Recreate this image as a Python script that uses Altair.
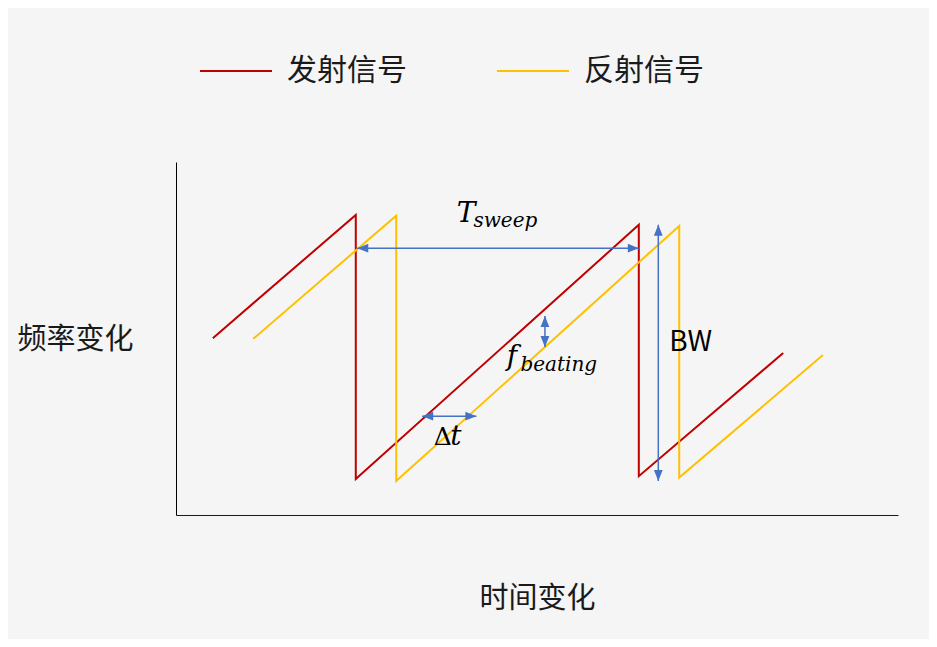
import altair as alt
import pandas as pd

# ---- data (time axis 0-100, frequency axis 0-100) ----
series_names = ["发射信号", "反射信号"]
series_colors = ["#c00000", "#ffc000"]

tx_time = [5.1, 24.9, 24.9, 64.1, 64.1, 84.1]
tx_freq = [50.1, 85.0, 10.2, 82.2, 11.0, 45.9]
rx_time = [10.7, 30.5, 30.5, 69.7, 69.7, 89.6]
rx_freq = [49.9, 84.8, 9.6, 81.9, 10.6, 45.3]

# annotation arrows: T_sweep, BW, f_beating, delta t
arrow_x1 = [25.1, 66.8, 51.1, 34.1]
arrow_y1 = [75.6, 82.2, 56.4, 28.0]
arrow_x2 = [64.1, 66.8, 51.1, 41.6]
arrow_y2 = [75.6, 9.6, 47.6, 28.0]

# annotation texts
label_text = ["T", "sweep", "f", "beating", "Δ", "t", "BW"]
label_x = [38.9, 41.2, 45.8, 47.7, 35.7, 38.0, 68.3]
label_y = [83.0, 81.6, 42.5, 40.8, 19.8, 19.8, 46.5]
label_kind = ["main", "sub", "main", "sub", "upright", "main", "sans"]

# ---- tables ----
rows = []
for name, ts, fs in [(series_names[0], tx_time, tx_freq), (series_names[1], rx_time, rx_freq)]:
    for i, (t, f) in enumerate(zip(ts, fs)):
        rows.append({"series": name, "t": t, "f": f, "i": i})
lines_df = pd.DataFrame(rows)

arrows_df = pd.DataFrame({"x1": arrow_x1, "y1": arrow_y1, "x2": arrow_x2, "y2": arrow_y2})

LEFT = "M0,0L2,-0.8L2,0.8Z"
RIGHT = "M0,0L-2,-0.8L-2,0.8Z"
UP = "M0,0L-0.8,2L0.8,2Z"
DOWN = "M0,0L-0.8,-2L0.8,-2Z"
heads = []
for x1, y1, x2, y2 in zip(arrow_x1, arrow_y1, arrow_x2, arrow_y2):
    if y1 == y2:
        heads.append({"x": x1, "y": y1, "shape": LEFT if x1 < x2 else RIGHT})
        heads.append({"x": x2, "y": y2, "shape": RIGHT if x1 < x2 else LEFT})
    else:
        heads.append({"x": x1, "y": y1, "shape": UP if y1 > y2 else DOWN})
        heads.append({"x": x2, "y": y2, "shape": DOWN if y1 > y2 else UP})
heads_df = pd.DataFrame(heads)

text_df = pd.DataFrame({"label": label_text, "x": label_x, "y": label_y, "kind": label_kind})

# ---- scales / axes ----
CJK = "Noto Sans CJK SC"
BLUE = "#4472c4"
x_scale = alt.Scale(domain=[0, 100], nice=False, zero=False)
y_scale = alt.Scale(domain=[0, 100], nice=False, zero=False)
x_axis = alt.Axis(title="时间变化", domain=True, domainColor="#1a1a1a", domainWidth=1.2,
                  ticks=False, labels=False, grid=False,
                  titleFont=CJK, titleFontSize=29, titleFontWeight="normal",
                  titleColor="#1a1a1a", titleY=83, titleBaseline="middle")
y_axis = alt.Axis(title="频率变化", domain=True, domainColor="#000000", domainWidth=1,
                  ticks=False, labels=False, grid=False,
                  titleFont=CJK, titleFontSize=29, titleFontWeight="normal",
                  titleColor="#1a1a1a", titleAngle=0, titleAlign="right",
                  titleBaseline="middle", titleX=-43, titleY=177)

lines = alt.Chart(lines_df).mark_line(strokeWidth=2).encode(
    x=alt.X("t:Q", scale=x_scale, axis=x_axis),
    y=alt.Y("f:Q", scale=y_scale, axis=y_axis),
    color=alt.Color(
        "series:N",
        scale=alt.Scale(domain=series_names, range=series_colors),
        legend=alt.Legend(orient="none", legendX=23, legendY=-128, direction="horizontal",
                          title=None, symbolType="stroke", symbolSize=5184,
                          symbolStrokeWidth=2, labelFont=CJK, labelFontSize=30,
                          labelColor="#1a1a1a", labelOffset=14, columnPadding=86,
                          padding=0, labelLimit=0),
    ),
    order="i:Q",
)

rules = alt.Chart(arrows_df).mark_rule(color=BLUE, strokeWidth=1.5).encode(
    x=alt.X("x1:Q", scale=x_scale, axis=x_axis),
    y=alt.Y("y1:Q", scale=y_scale, axis=y_axis),
    x2="x2:Q",
    y2="y2:Q",
)

tips = alt.Chart(heads_df).mark_point(filled=True, opacity=1, size=121, color=BLUE, strokeWidth=0).encode(
    x=alt.X("x:Q", scale=x_scale, axis=x_axis),
    y=alt.Y("y:Q", scale=y_scale, axis=y_axis),
    shape=alt.Shape("shape:N", scale=None),
)

def text_layer(kind, **kw):
    return alt.Chart(text_df).transform_filter(alt.datum.kind == kind).mark_text(
        align="left", baseline="alphabetic", color="#000000", **kw
    ).encode(
        x=alt.X("x:Q", scale=x_scale, axis=x_axis),
        y=alt.Y("y:Q", scale=y_scale, axis=y_axis),
        text="label:N",
    )

texts = [
    text_layer("main", font="DejaVu Serif", fontStyle="italic", fontSize=28),
    text_layer("sub", font="DejaVu Serif", fontStyle="italic", fontSize=20),
    text_layer("upright", font="DejaVu Serif", fontSize=25),
    text_layer("sans", font=CJK, fontSize=28),
]

chart = alt.layer(lines, rules, tips, *texts).properties(
    width=722,
    height=353,
    background="#f5f5f5",
    padding={"left": 168, "top": 154, "right": 31, "bottom": 124},
    autosize=alt.AutoSizeParams(type="none"),
).configure_view(stroke=None)

chart.save("out.html", embed_options={"renderer": "svg", "actions": False})
